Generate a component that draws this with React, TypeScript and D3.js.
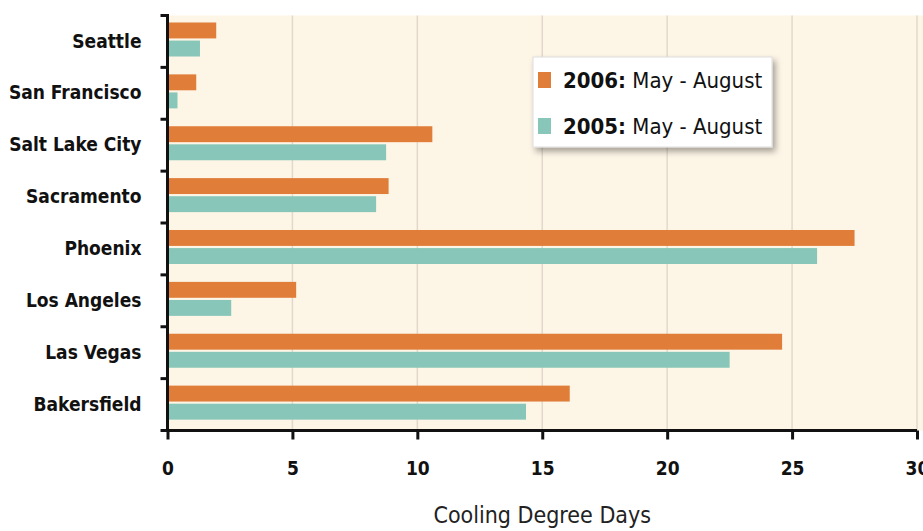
import React, { useEffect, useRef } from 'react';
import * as d3 from 'd3';

const cities = ['Seattle', 'San Francisco', 'Salt Lake City', 'Sacramento', 'Phoenix', 'Los Angeles', 'Las Vegas', 'Bakersfield'];
const days2006 = [1.95, 1.15, 10.6, 8.85, 27.5, 5.15, 24.6, 16.1];
const days2005 = [1.3, 0.4, 8.75, 8.35, 26.0, 2.55, 22.5, 14.35];
const series = ['2006', '2005'];
const legendLabels = ['2006', '2005'];
const xTicks = [0, 5, 10, 15, 20, 25, 30];

const W = 923;
const H = 531;
const COND = "'DejaVu Sans Condensed', 'Liberation Sans Narrow', sans-serif";

export default function App() {
  const svgRef = useRef<SVGSVGElement>(null);

  useEffect(() => {
    const svg = d3.select(svgRef.current);
    svg.selectAll('*').remove();

    const left = 167.5, right = 917, top = 15.5, bottom = 430.5;

    const x = d3.scaleLinear().domain([0, 30]).range([left, right]);
    const y = d3.scaleBand().domain(cities).range([top, bottom]);
    const sub = d3.scaleBand().domain(series).range([7, 41]).paddingInner(0.12);
    const color = d3.scaleOrdinal<string>().domain(series).range(['#e07d38', '#87c6b8']);

    const defs = svg.append('defs');
    const f = defs.append('filter').attr('id', 'sh').attr('x', '-10%').attr('y', '-10%').attr('width', '130%').attr('height', '140%');
    f.append('feDropShadow').attr('dx', 3).attr('dy', 4).attr('stdDeviation', 3).attr('flood-color', '#000').attr('flood-opacity', 0.35);

    // plot background
    svg.append('rect')
      .attr('x', left).attr('y', top)
      .attr('width', W - left).attr('height', bottom - top)
      .attr('fill', '#fdf5e6');

    // grid
    svg.append('g').selectAll('line')
      .data(xTicks.slice(1))
      .enter().append('line')
      .attr('x1', d => x(d)).attr('x2', d => x(d))
      .attr('y1', top).attr('y2', bottom)
      .attr('stroke', '#e2d9cc').attr('stroke-width', 1.5);

    // bars
    const rows = cities.map((c, i) => ({ c, v: [days2006[i], days2005[i]] }));
    const g = svg.append('g');
    rows.forEach(r => {
      series.forEach((s, k) => {
        g.append('rect')
          .attr('x', x(0))
          .attr('y', (y(r.c) as number) + (sub(s) as number))
          .attr('width', x(r.v[k]) - x(0))
          .attr('height', sub.bandwidth())
          .attr('fill', color(s));
      });
    });

    // axes
    const yAxis = svg.append('g')
      .attr('transform', `translate(${left},0)`)
      .call(d3.axisLeft(y).tickSize(0).tickPadding(26));
    yAxis.select('.domain').remove();
    yAxis.selectAll('text')
      .attr('font-family', COND).attr('font-weight', 'bold').attr('font-size', 19).attr('fill', '#111');

    const yTicks = d3.range(cities.length + 1).map(i => top + i * y.step());
    svg.append('g').selectAll('line').data(yTicks).enter().append('line')
      .attr('x1', left - 7).attr('x2', left).attr('y1', d => d).attr('y2', d => d)
      .attr('stroke', '#111').attr('stroke-width', 3);
    svg.append('line')
      .attr('x1', left).attr('x2', left).attr('y1', top - 1.5).attr('y2', bottom + 1.5)
      .attr('stroke', '#111').attr('stroke-width', 3);

    const xAxis = svg.append('g')
      .attr('transform', `translate(0,${bottom})`)
      .call(d3.axisBottom(x).tickValues(xTicks).tickSize(9).tickPadding(22).tickFormat(d3.format('d')));
    xAxis.select('.domain').attr('stroke', '#111').attr('stroke-width', 3).attr('d', `M${left},0H${right}`);
    xAxis.selectAll('.tick line').attr('stroke', '#111').attr('stroke-width', 3);
    xAxis.selectAll('text')
      .attr('font-family', COND).attr('font-weight', 'bold').attr('font-size', 19).attr('fill', '#111');

    svg.append('text')
      .attr('x', x(15)).attr('y', 523)
      .attr('text-anchor', 'middle')
      .attr('font-family', COND).attr('font-size', 23).attr('fill', '#222')
      .text('Cooling Degree Days');

    // legend
    const lg = svg.append('g').attr('transform', 'translate(533,57)');
    lg.append('rect').attr('width', 239).attr('height', 90).attr('fill', '#fff')
      .attr('stroke', '#ddd').attr('filter', 'url(#sh)');
    legendLabels.forEach((s, i) => {
      const row = lg.append('g').attr('transform', `translate(5,${15 + i * 46})`);
      row.append('rect').attr('width', 13).attr('height', 16).attr('fill', color(s));
      const t = row.append('text').attr('x', 25).attr('y', 16)
        .attr('font-family', COND).attr('font-size', 22).attr('fill', '#111');
      t.append('tspan').attr('font-weight', 600).text(`${s}:`);
      t.append('tspan').text(' May - August');
    });
  }, []);

  return (
    <svg ref={svgRef} width={W} height={H}
      style={{ position: 'absolute', left: 0, top: 0, background: '#fff' }} />
  );
}
